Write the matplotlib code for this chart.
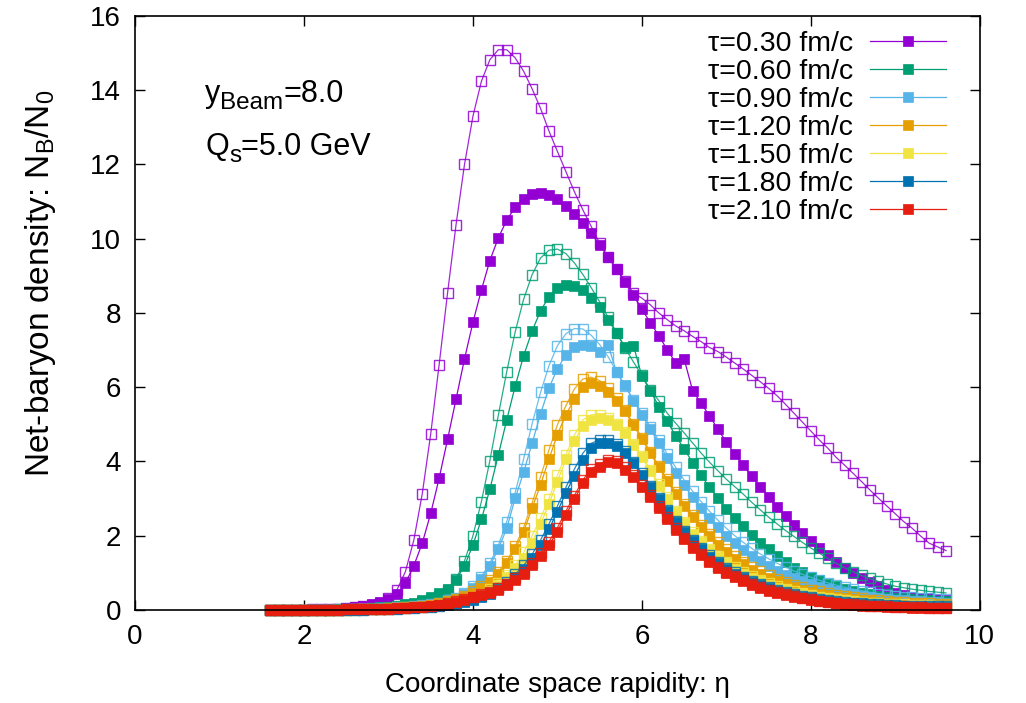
import matplotlib
matplotlib.use("Agg")
import matplotlib.pyplot as plt
from matplotlib.transforms import offset_copy

plt.rcParams['font.family'] = ['Liberation Sans', 'DejaVu Sans']
plt.rcParams['mathtext.fontset'] = 'custom'
plt.rcParams['mathtext.rm'] = 'Liberation Sans'
plt.rcParams['mathtext.it'] = 'Liberation Sans:italic'
plt.rcParams['mathtext.default'] = 'regular'

eta = [1.6, 1.7, 1.8, 1.9, 2.0, 2.1, 2.2, 2.3, 2.4, 2.5,
       2.6, 2.7, 2.8, 2.9, 3.0, 3.1, 3.2, 3.3, 3.4, 3.5,
       3.6, 3.7, 3.8, 3.9, 4.0, 4.1, 4.2, 4.3, 4.4, 4.5,
       4.6, 4.7, 4.8, 4.9, 5.0, 5.1, 5.2, 5.3, 5.4, 5.5,
       5.6, 5.7, 5.8, 5.9, 6.0, 6.1, 6.2, 6.3, 6.4, 6.5,
       6.6, 6.7, 6.8, 6.9, 7.0, 7.1, 7.2, 7.3, 7.4, 7.5,
       7.6, 7.7, 7.8, 7.9, 8.0, 8.1, 8.2, 8.3, 8.4, 8.5,
       8.6, 8.7, 8.8, 8.9, 9.0, 9.1, 9.2, 9.3, 9.4, 9.5,
       9.6]

tau_labels = ["τ=0.30 fm/c", "τ=0.60 fm/c", "τ=0.90 fm/c", "τ=1.20 fm/c",
              "τ=1.50 fm/c", "τ=1.80 fm/c", "τ=2.10 fm/c"]
colors = ["#9400D3", "#009E73", "#56B4E9", "#E69F00", "#F0E442", "#0072B2", "#E51E10"]

# open-square series
t030_open = [0.00, 0.00, 0.01, 0.01, 0.01, 0.02, 0.02, 0.03, 0.04, 0.05,
             0.07, 0.10, 0.14, 0.20, 0.32, 0.54, 1.03, 1.88, 3.13, 4.74,
             6.61, 8.55, 10.38, 12.00, 13.30, 14.24, 14.82, 15.09, 15.09, 14.87,
             14.51, 14.04, 13.51, 12.90, 12.35, 11.81, 11.27, 10.78, 10.33, 9.88,
             9.50, 9.18, 8.85, 8.54, 8.40, 8.22, 8.00, 7.82, 7.65, 7.52,
             7.37, 7.23, 7.07, 6.96, 6.81, 6.65, 6.49, 6.32, 6.15, 5.97,
             5.77, 5.54, 5.30, 5.06, 4.82, 4.58, 4.36, 4.11, 3.90, 3.68,
             3.46, 3.23, 3.01, 2.80, 2.59, 2.38, 2.20, 1.99, 1.80, 1.70,
             1.60]
t060_open = [0.00, 0.00, 0.00, 0.00, 0.01, 0.01, 0.01, 0.01, 0.02, 0.02,
             0.03, 0.04, 0.05, 0.06, 0.08, 0.10, 0.13, 0.17, 0.22, 0.29,
             0.38, 0.55, 0.83, 1.32, 2.00, 2.92, 4.02, 5.24, 6.42, 7.49,
             8.37, 9.03, 9.48, 9.69, 9.72, 9.60, 9.35, 9.04, 8.68, 8.30,
             7.88, 7.47, 7.06, 6.68, 6.32, 5.93, 5.64, 5.30, 5.03, 4.77,
             4.50, 4.23, 3.98, 3.75, 3.52, 3.32, 3.12, 2.90, 2.70, 2.50,
             2.32, 2.14, 1.98, 1.82, 1.67, 1.53, 1.39, 1.26, 1.14, 1.03,
             0.93, 0.85, 0.77, 0.70, 0.64, 0.60, 0.56, 0.53, 0.50, 0.48,
             0.46]
t090_open = [0.00, 0.00, 0.00, 0.00, 0.00, 0.01, 0.01, 0.01, 0.01, 0.02,
             0.02, 0.03, 0.04, 0.05, 0.06, 0.07, 0.09, 0.11, 0.13, 0.16,
             0.20, 0.26, 0.33, 0.45, 0.65, 0.90, 1.26, 1.73, 2.38, 3.16,
             4.07, 5.01, 5.86, 6.58, 7.12, 7.44, 7.58, 7.57, 7.40, 7.15,
             6.82, 6.42, 6.02, 5.66, 5.30, 4.93, 4.57, 4.20, 3.84, 3.50,
             3.20, 2.92, 2.66, 2.42, 2.20, 2.00, 1.82, 1.66, 1.51, 1.38,
             1.26, 1.15, 1.05, 0.96, 0.88, 0.80, 0.73, 0.67, 0.61, 0.56,
             0.52, 0.48, 0.44, 0.41, 0.38, 0.36, 0.34, 0.32, 0.31, 0.30,
             0.29]
t120_open = [0.00, 0.00, 0.00, 0.00, 0.00, 0.00, 0.01, 0.01, 0.01, 0.01,
             0.02, 0.02, 0.03, 0.04, 0.05, 0.06, 0.07, 0.09, 0.11, 0.14,
             0.18, 0.23, 0.29, 0.38, 0.50, 0.64, 0.80, 1.02, 1.32, 1.72,
             2.22, 2.88, 3.59, 4.31, 4.99, 5.50, 5.95, 6.22, 6.27, 6.18,
             5.97, 5.70, 5.38, 5.02, 4.64, 4.26, 3.88, 3.52, 3.17, 2.86,
             2.57, 2.30, 2.05, 1.83, 1.63, 1.45, 1.30, 1.16, 1.04, 0.93,
             0.84, 0.75, 0.68, 0.61, 0.55, 0.50, 0.45, 0.41, 0.37, 0.34,
             0.31, 0.28, 0.26, 0.24, 0.22, 0.21, 0.20, 0.19, 0.18, 0.17,
             0.17]
t150_open = [0.00, 0.00, 0.00, 0.00, 0.00, 0.00, 0.00, 0.01, 0.01, 0.01,
             0.01, 0.02, 0.02, 0.03, 0.04, 0.05, 0.06, 0.07, 0.09, 0.11,
             0.14, 0.17, 0.21, 0.27, 0.34, 0.44, 0.56, 0.72, 0.95, 1.20,
             1.55, 2.00, 2.48, 3.00, 3.63, 4.18, 4.70, 5.12, 5.26, 5.26,
             5.16, 5.02, 4.79, 4.48, 4.15, 3.78, 3.39, 3.03, 2.67, 2.37,
             2.10, 1.86, 1.65, 1.46, 1.30, 1.15, 1.02, 0.91, 0.81, 0.72,
             0.64, 0.57, 0.51, 0.45, 0.40, 0.36, 0.32, 0.29, 0.26, 0.24,
             0.22, 0.20, 0.18, 0.17, 0.16, 0.15, 0.14, 0.13, 0.13, 0.12,
             0.12]
t180_open = [0.00, 0.00, 0.00, 0.00, 0.00, 0.00, 0.00, 0.00, 0.01, 0.01,
             0.01, 0.01, 0.02, 0.02, 0.03, 0.04, 0.05, 0.06, 0.07, 0.09,
             0.12, 0.15, 0.19, 0.24, 0.30, 0.38, 0.47, 0.60, 0.76, 0.96,
             1.20, 1.50, 1.88, 2.32, 2.80, 3.30, 3.79, 4.22, 4.49, 4.58,
             4.58, 4.48, 4.27, 3.99, 3.68, 3.35, 3.02, 2.70, 2.41, 2.14,
             1.89, 1.67, 1.47, 1.30, 1.14, 1.01, 0.89, 0.79, 0.70, 0.62,
             0.55, 0.49, 0.43, 0.38, 0.34, 0.30, 0.27, 0.24, 0.22, 0.20,
             0.18, 0.16, 0.15, 0.14, 0.13, 0.12, 0.11, 0.11, 0.10, 0.10,
             0.10]
t210_open = [0.00, 0.00, 0.00, 0.00, 0.01, 0.01, 0.01, 0.01, 0.01, 0.02,
             0.02, 0.02, 0.03, 0.03, 0.04, 0.05, 0.06, 0.07, 0.09, 0.11,
             0.14, 0.18, 0.23, 0.29, 0.36, 0.42, 0.49, 0.59, 0.71, 0.85,
             1.03, 1.27, 1.53, 1.84, 2.22, 2.66, 3.08, 3.50, 3.80, 3.93,
             4.05, 4.02, 3.84, 3.63, 3.37, 3.09, 2.79, 2.50, 2.20, 1.95,
             1.72, 1.51, 1.33, 1.17, 1.03, 0.91, 0.80, 0.70, 0.62, 0.55,
             0.48, 0.42, 0.37, 0.33, 0.29, 0.25, 0.22, 0.19, 0.17, 0.15,
             0.13, 0.12, 0.11, 0.10, 0.09, 0.08, 0.07, 0.07, 0.06, 0.06,
             0.06]

# filled-square series
t030_fill = [0.00, 0.00, 0.01, 0.01, 0.01, 0.02, 0.02, 0.03, 0.04, 0.05,
             0.07, 0.10, 0.15, 0.22, 0.30, 0.42, 0.72, 1.19, 1.80, 2.60,
             3.55, 4.60, 5.68, 6.76, 7.75, 8.62, 9.41, 10.02, 10.50, 10.85,
             11.08, 11.20, 11.24, 11.19, 11.07, 10.89, 10.67, 10.42, 10.15, 9.83,
             9.51, 9.19, 8.84, 8.48, 8.10, 7.74, 7.39, 7.01, 6.66, 6.76,
             5.91, 5.57, 5.23, 4.87, 4.52, 4.20, 3.90, 3.60, 3.31, 3.05,
             2.77, 2.53, 2.28, 2.07, 1.86, 1.66, 1.47, 1.30, 1.14, 1.00,
             0.87, 0.75, 0.64, 0.55, 0.47, 0.41, 0.36, 0.33, 0.31, 0.29,
             0.28]
t060_fill = [0.00, 0.00, 0.00, 0.00, 0.01, 0.01, 0.01, 0.01, 0.02, 0.02,
             0.03, 0.04, 0.05, 0.07, 0.09, 0.12, 0.16, 0.20, 0.26, 0.35,
             0.45, 0.56, 0.81, 1.19, 1.75, 2.44, 3.25, 4.17, 5.12, 6.03,
             6.85, 7.51, 8.06, 8.43, 8.66, 8.76, 8.73, 8.61, 8.40, 8.15,
             7.82, 7.46, 7.08, 7.12, 6.29, 5.91, 5.48, 5.08, 4.69, 4.34,
             3.97, 3.63, 3.31, 3.02, 2.72, 2.47, 2.25, 2.02, 1.81, 1.63,
             1.46, 1.29, 1.14, 1.02, 0.90, 0.80, 0.71, 0.64, 0.57, 0.51,
             0.46, 0.42, 0.38, 0.35, 0.32, 0.30, 0.28, 0.27, 0.26, 0.25,
             0.24]
t090_fill = [0.00, 0.00, 0.00, 0.00, 0.00, 0.01, 0.01, 0.01, 0.01, 0.02,
             0.02, 0.03, 0.04, 0.05, 0.06, 0.07, 0.09, 0.11, 0.13, 0.16,
             0.20, 0.25, 0.31, 0.42, 0.60, 0.83, 1.19, 1.64, 2.20, 3.01,
             3.71, 4.49, 5.28, 5.98, 6.50, 6.87, 7.08, 7.14, 7.10, 6.94,
             7.14, 6.40, 6.06, 5.64, 5.26, 4.87, 4.50, 4.09, 3.70, 3.36,
             3.05, 2.75, 2.48, 2.23, 2.00, 1.80, 1.62, 1.46, 1.31, 1.18,
             1.06, 0.95, 0.85, 0.77, 0.69, 0.62, 0.56, 0.51, 0.46, 0.42,
             0.38, 0.35, 0.32, 0.30, 0.28, 0.26, 0.24, 0.23, 0.22, 0.21,
             0.20]
t120_fill = [0.00, 0.00, 0.00, 0.00, 0.00, 0.00, 0.01, 0.01, 0.01, 0.01,
             0.02, 0.02, 0.03, 0.04, 0.05, 0.06, 0.07, 0.09, 0.11, 0.14,
             0.17, 0.21, 0.27, 0.36, 0.47, 0.60, 0.76, 0.97, 1.26, 1.64,
             2.11, 2.74, 3.37, 4.07, 4.72, 5.26, 5.67, 6.00, 6.11, 6.04,
             5.86, 5.64, 5.35, 4.98, 4.60, 4.22, 3.84, 3.48, 3.12, 2.80,
             2.50, 2.23, 1.98, 1.76, 1.56, 1.38, 1.23, 1.09, 0.97, 0.86,
             0.77, 0.69, 0.61, 0.55, 0.49, 0.44, 0.40, 0.36, 0.32, 0.29,
             0.26, 0.24, 0.22, 0.20, 0.18, 0.17, 0.16, 0.15, 0.14, 0.13,
             0.13]
t150_fill = [0.00, 0.00, 0.00, 0.00, 0.00, 0.00, 0.00, 0.01, 0.01, 0.01,
             0.01, 0.02, 0.02, 0.03, 0.04, 0.05, 0.06, 0.07, 0.09, 0.11,
             0.13, 0.16, 0.20, 0.25, 0.32, 0.40, 0.52, 0.68, 0.90, 1.12,
             1.40, 1.81, 2.32, 2.86, 3.46, 4.06, 4.54, 4.96, 5.12, 5.17,
             5.12, 4.99, 4.76, 4.45, 4.12, 3.75, 3.35, 2.99, 2.63, 2.33,
             2.06, 1.82, 1.61, 1.42, 1.26, 1.11, 0.98, 0.87, 0.77, 0.68,
             0.60, 0.53, 0.47, 0.42, 0.37, 0.33, 0.29, 0.26, 0.23, 0.21,
             0.19, 0.17, 0.15, 0.14, 0.13, 0.12, 0.11, 0.10, 0.10, 0.09,
             0.09]
t180_fill = [0.00, 0.00, 0.00, 0.00, 0.00, 0.00, 0.00, 0.00, 0.01, 0.01,
             0.01, 0.01, 0.02, 0.02, 0.03, 0.04, 0.05, 0.06, 0.07, 0.09,
             0.11, 0.14, 0.18, 0.22, 0.28, 0.35, 0.44, 0.56, 0.71, 0.89,
             1.11, 1.39, 1.74, 2.18, 2.65, 3.16, 3.61, 4.04, 4.36, 4.49,
             4.49, 4.42, 4.22, 3.95, 3.64, 3.32, 2.99, 2.67, 2.38, 2.11,
             1.86, 1.64, 1.44, 1.27, 1.11, 0.98, 0.86, 0.76, 0.67, 0.59,
             0.52, 0.46, 0.40, 0.36, 0.32, 0.28, 0.25, 0.22, 0.20, 0.18,
             0.16, 0.14, 0.13, 0.12, 0.11, 0.10, 0.09, 0.09, 0.08, 0.08,
             0.08]
t210_fill = [0.00, 0.00, 0.00, 0.00, 0.01, 0.01, 0.01, 0.01, 0.01, 0.02,
             0.02, 0.02, 0.03, 0.03, 0.04, 0.05, 0.06, 0.07, 0.09, 0.11,
             0.13, 0.17, 0.22, 0.28, 0.34, 0.40, 0.46, 0.55, 0.67, 0.80,
             0.97, 1.20, 1.45, 1.75, 2.11, 2.56, 2.98, 3.41, 3.73, 3.86,
             3.98, 3.95, 3.77, 3.57, 3.31, 3.04, 2.74, 2.45, 2.16, 1.91,
             1.68, 1.48, 1.30, 1.14, 1.00, 0.88, 0.77, 0.68, 0.60, 0.52,
             0.46, 0.40, 0.35, 0.31, 0.27, 0.24, 0.21, 0.18, 0.16, 0.14,
             0.12, 0.11, 0.10, 0.09, 0.08, 0.07, 0.06, 0.06, 0.05, 0.05,
             0.05]

open_series = [t030_open, t060_open, t090_open, t120_open, t150_open, t180_open, t210_open]
fill_series = [t030_fill, t060_fill, t090_fill, t120_fill, t150_fill, t180_fill, t210_fill]

fig = plt.figure(figsize=(10.26, 7.03), dpi=100)
ax = fig.add_axes([0.1316, 0.1323, 0.8234, 0.845])

handles = []
for k in range(len(tau_labels)):
    c = colors[k]
    ax.plot(eta, open_series[k], color=c, lw=0.9, alpha=0.85, marker='s',
            markersize=7.2, markerfacecolor='none', markeredgecolor=c,
            markeredgewidth=1.0, zorder=2 + 2 * k, clip_on=False)
    h, = ax.plot(eta, fill_series[k], color=c, lw=0.9, marker='s',
                 markersize=6.8, markerfacecolor=c, markeredgecolor=c,
                 markeredgewidth=0.5, zorder=3 + 2 * k, label=tau_labels[k],
                 clip_on=False)
    handles.append(h)

ax.set_xlim(0, 10)
ax.set_ylim(0, 16)
ax.set_xticks([0, 2, 4, 6, 8, 10])
ax.set_yticks([0, 2, 4, 6, 8, 10, 12, 14, 16])
ax.tick_params(direction='in', top=True, right=True, length=7, width=1.0,
               labelsize=20, pad=10)
for s in ax.spines.values():
    s.set_linewidth(1.2)
    s.set_zorder(30)

ax.set_xlabel("Coordinate space rapidity: η", fontsize=20, labelpad=16)
ax.set_ylabel(r"Net-baryon density: N$_\mathrm{B}$/N$_0$", fontsize=24)
ax.yaxis.set_label_coords(-0.091, 0.55)


def compose(x, y, parts):
    """Place consecutive text pieces (text, size, baseline shift in pt)."""
    renderer = fig.canvas.get_renderer()
    dx = 0.0
    for txt, size, dy in parts:
        tr = offset_copy(ax.transData, fig=fig, x=dx, y=dy, units='points')
        t = ax.text(x, y, txt, fontsize=size, transform=tr,
                    ha='left', va='baseline')
        w = t.get_window_extent(renderer=renderer).width * 72.0 / fig.dpi
        dx += w


compose(0.83, 13.67, [("y", 22, 0), ("Beam", 17.5, -5), ("=8.0", 22, 0)])
compose(0.83, 12.25, [("Q", 22, 0), ("s", 17.5, -5), ("=5.0 GeV", 22, 0)])

leg = ax.legend(handles=handles, loc='upper right', bbox_to_anchor=(0.983, 1.009),
                frameon=False, markerfirst=False, numpoints=1, fontsize=20.5,
                handlelength=2.65, labelspacing=0.07, handletextpad=0.6,
                borderaxespad=0.3)

fig.savefig("out.png", dpi=100)
